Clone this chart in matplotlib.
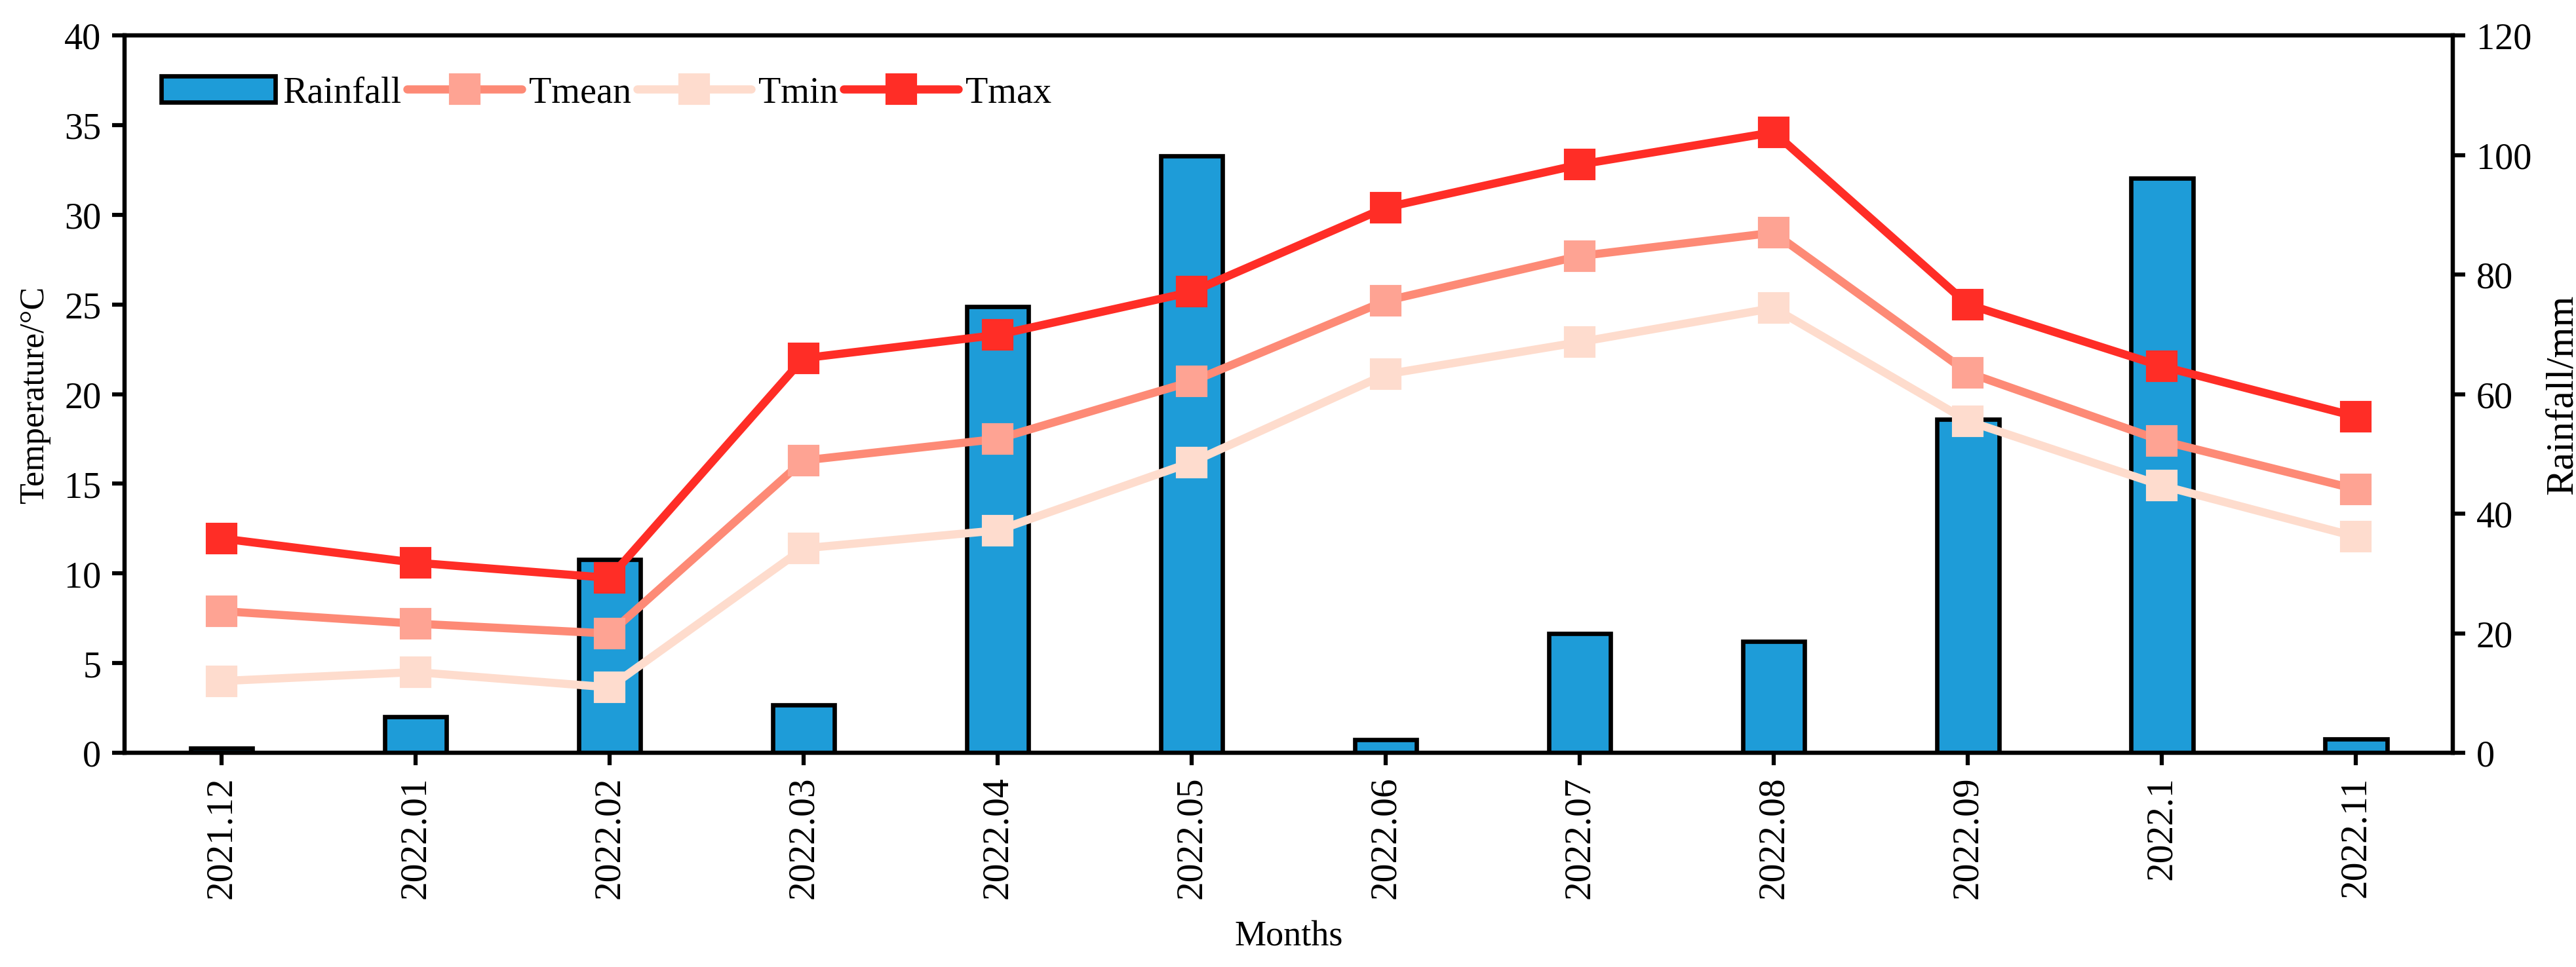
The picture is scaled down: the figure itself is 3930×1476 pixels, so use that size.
import matplotlib
matplotlib.use("Agg")
import matplotlib.pyplot as plt
import numpy as np

# ====== Data ======
months = ["2021.12", "2022.01", "2022.02", "2022.03", "2022.04", "2022.05",
          "2022.06", "2022.07", "2022.08", "2022.09", "2022.1", "2022.11"]
rainfall = [0.8, 6.0, 32.3, 8.0, 74.6, 99.8, 2.2, 20.0, 18.6, 55.8, 96.1, 2.3]
tmean = [7.9, 7.2, 6.65, 16.3, 17.5, 20.7, 25.2, 27.7, 29.0, 21.2, 17.4, 14.7]
tmin = [4.0, 4.5, 3.65, 11.4, 12.4, 16.2, 21.1, 22.9, 24.8, 18.5, 14.9, 12.05]
tmax = [11.95, 10.6, 9.75, 22.0, 23.3, 25.7, 30.4, 32.8, 34.6, 25.0, 21.55, 18.75]

# ====== Style ======
plt.rcParams["font.family"] = ["Liberation Serif", "DejaVu Serif"]
plt.rcParams["font.size"] = 13

BAR_COLOR = "#1e9cd8"
TMAX_LINE, TMAX_MARK = "#ff2d26", "#ff2d26"
TMEAN_LINE, TMEAN_MARK = "#fd8a76", "#fea393"
TMIN_LINE, TMIN_MARK = "#fedccd", "#fedcce"


def main():
    fig = plt.figure(figsize=(13.103, 4.923), dpi=300)
    ax1 = fig.add_axes([0.0483, 0.2214, 0.9037, 0.7414])
    ax2 = ax1.twinx()

    x = np.arange(len(months))

    # rainfall bars on the right axis
    bars = ax2.bar(x, rainfall, width=0.32, color=BAR_COLOR,
                   edgecolor="black", linewidth=1.6, label="Rainfall")
    ax2.set_ylim(0, 120)
    ax2.set_yticks(range(0, 121, 20))
    ax2.set_ylabel("Rainfall/mm", fontsize=14.5, labelpad=5)

    # temperature lines on the left axis, drawn above the bars
    ax1.set_zorder(ax2.get_zorder() + 1)
    ax1.patch.set_visible(False)
    kw = dict(lw=3, marker="s", ms=10.5, solid_capstyle="round")
    l_mean, = ax1.plot(x, tmean, color=TMEAN_LINE, mfc=TMEAN_MARK,
                       mec=TMEAN_MARK, label="Tmean", **kw)
    l_min, = ax1.plot(x, tmin, color=TMIN_LINE, mfc=TMIN_MARK,
                      mec=TMIN_MARK, label="Tmin", **kw)
    l_max, = ax1.plot(x, tmax, color=TMAX_LINE, mfc=TMAX_MARK,
                      mec=TMAX_MARK, label="Tmax", **kw)

    ax1.set_xlim(-0.5, len(months) - 0.5)
    ax1.set_ylim(0, 40)
    ax1.set_yticks(range(0, 41, 5))
    ax1.set_xticks(x)
    ax1.set_xticklabels(months, rotation=90, fontsize=13.8)
    ax1.set_ylabel("Temperature/\u00b0C", fontsize=12.5, labelpad=5)
    ax1.set_xlabel("Months", labelpad=8)

    for ax in (ax1, ax2):
        for sp in ax.spines.values():
            sp.set_linewidth(1.5)
        ax.tick_params(direction="out", length=4.5, width=1.5, pad=4)
        ax.tick_params(axis="y", labelsize=13.5)

    ax1.legend([bars, l_mean, l_min, l_max], ["Rainfall", "Tmean", "Tmin", "Tmax"],
               loc="upper left", ncol=4, frameon=False, handlelength=3.1,
               handletextpad=0.2, columnspacing=0.15, numpoints=1, fontsize=13.5,
               bbox_to_anchor=(0.0, 0.995), borderaxespad=0.6)

    fig.savefig("out.png", dpi=300)
    plt.close(fig)


if __name__ == "__main__":
    main()
